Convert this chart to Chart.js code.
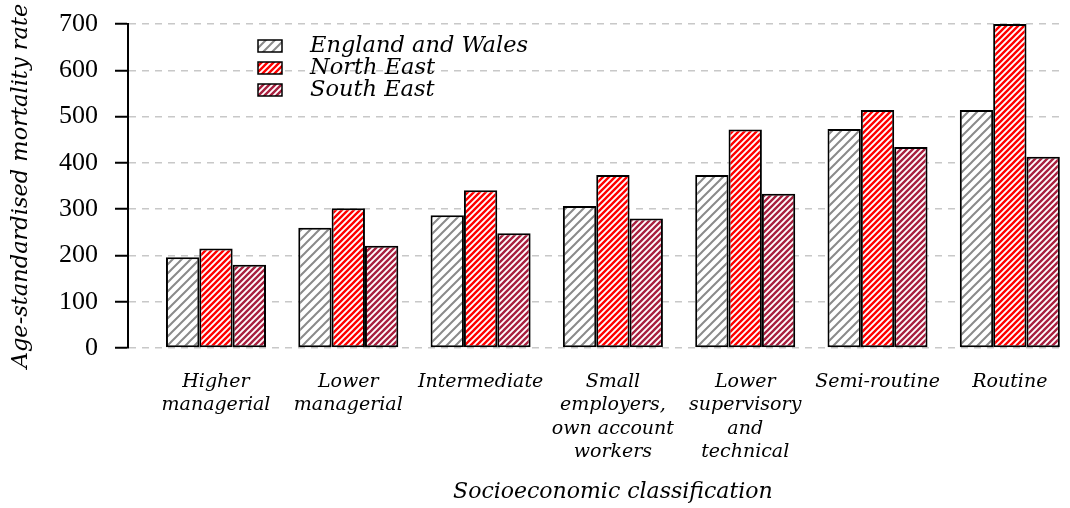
<!DOCTYPE html>
<html>
<head>
<meta charset="utf-8">
<script src="https://cdn.jsdelivr.net/npm/chart.js@4.4.0/dist/chart.umd.min.js"></script>
<style>
html,body{margin:0;padding:0;background:#fff;}
#wrap{width:1070px;height:508px;position:relative;}
</style>
</head>
<body>
<div id="wrap"><canvas id="chart"></canvas></div>
<script>
// data
var categories = [
    ["Higher", "managerial"],
    ["Lower", "managerial"],
    "Intermediate",
    ["Small", "employers,", "own account", "workers"],
    ["Lower", "supervisory", "and", "technical"],
    "Semi-routine",
    "Routine"
];
var seriesNames = ["England and Wales", "North East", "South East"];
var englandWales = [196, 260, 287, 307, 374, 473, 514];
var northEast    = [215, 302, 341, 374, 472, 514, 700];
var southEast    = [180, 221, 248, 280, 333, 434, 413];
var yTicks = [0, 100, 200, 300, 400, 500, 600, 700];

function hatch(color, size, width){
    var c = document.createElement("canvas");
    c.width = size; c.height = size;
    var g = c.getContext("2d");
    g.fillStyle = "#fff";
    g.fillRect(0, 0, size, size);
    g.strokeStyle = color;
    g.lineWidth = width;
    g.beginPath();
    g.moveTo(-size, size * 2); g.lineTo(size * 2, -size);
    g.moveTo(-size * 2, size * 2); g.lineTo(size, -size);
    g.moveTo(0, size * 2); g.lineTo(size * 3, -size);
    g.stroke();
    return g.createPattern(c, "repeat");
}

var serif = "'DejaVu Serif', serif";
var points = function(arr){ return arr.map(function(v, i){ return {x: i, y: v}; }); };

var datasets = [
    {label: seriesNames[0], data: points(englandWales), backgroundColor: hatch("#8a8a8a", 9, 2)},
    {label: seriesNames[1], data: points(northEast),    backgroundColor: hatch("#ff0000", 6, 2.4)},
    {label: seriesNames[2], data: points(southEast),    backgroundColor: hatch("#a8203f", 6, 2.4)}
];
datasets.forEach(function(d){
    d.borderColor = "#000";
    d.borderWidth = 2;
    d.borderSkipped = false;
    d.categoryPercentage = 0.756;
    d.barPercentage = 1.0;
});

// legend + x title drawn in the plot
var extraText = {
    id: "extraText",
    afterDraw: function(chart){
        var ctx = chart.ctx;
        var xs = chart.scales.x;
        ctx.save();
        ctx.font = "italic 22px " + serif;
        ctx.fillStyle = "#000";
        ctx.textAlign = "center";
        ctx.textBaseline = "middle";
        ctx.fillText("Socioeconomic classification", xs.getPixelForValue(3), 492);
        ctx.font = "italic 22.5px " + serif;
        chart.data.datasets.forEach(function(ds, i){
            var y = 46 + i * 22;
            ctx.fillStyle = ds.backgroundColor;
            ctx.fillRect(258, y - 6, 24, 12);
            ctx.lineWidth = 1.5;
            ctx.strokeStyle = "#000";
            ctx.strokeRect(258, y - 6, 24, 12);
            ctx.fillStyle = "#000";
            ctx.textAlign = "left";
            ctx.fillText(ds.label, 310, y);
        });
        ctx.restore();
    }
};

new Chart(document.getElementById("chart").getContext("2d"), {
    type: "bar",
    data: {datasets: datasets},
    plugins: [extraText],
    options: {
        responsive: true,
        maintainAspectRatio: false,
        animation: false,
        layout: {padding: {top: 24, right: 5, left: 0, bottom: 0}},
        plugins: {
            legend: {display: false},
            tooltip: {enabled: false}
        },
        scales: {
            x: {
                type: "linear",
                offset: false,
                min: -0.665,
                max: 6.417,
                afterBuildTicks: function(s){
                    s.ticks = categories.map(function(c, i){ return {value: i}; });
                },
                afterFit: function(s){
                    s.height = 160;
                    s.paddingLeft = 0;
                    s.paddingRight = 0;
                },
                ticks: {
                    callback: function(v){ return categories[v]; },
                    autoSkip: false,
                    maxRotation: 0,
                    minRotation: 0,
                    padding: 22,
                    color: "#000",
                    font: {family: serif, style: "italic", size: 19, lineHeight: 1.24}
                },
                grid: {display: false, drawTicks: false, offset: false},
                border: {display: false}
            },
            y: {
                min: 0,
                max: 700,
                afterBuildTicks: function(s){
                    s.ticks = yTicks.map(function(v){ return {value: v}; });
                },
                afterFit: function(s){
                    s.width = 128;
                    s.paddingTop = 0;
                    s.paddingBottom = 0;
                },
                ticks: {
                    padding: 17,
                    color: "#000",
                    font: {family: "'Liberation Serif', serif", size: 26}
                },
                grid: {
                    color: "#c8c8c8",
                    lineWidth: 1.5,
                    tickColor: "#000",
                    tickLength: 13,
                    tickWidth: 2,
                    tickBorderDash: []
                },
                border: {display: true, color: "#000", width: 2, dash: [7, 6]},
                title: {
                    display: true,
                    text: "Age-standardised mortality rate",
                    color: "#000",
                    font: {family: serif, style: "italic", size: 22.5},
                    padding: {top: 8, bottom: 0}
                }
            }
        }
    }
});
</script>
</body>
</html>
